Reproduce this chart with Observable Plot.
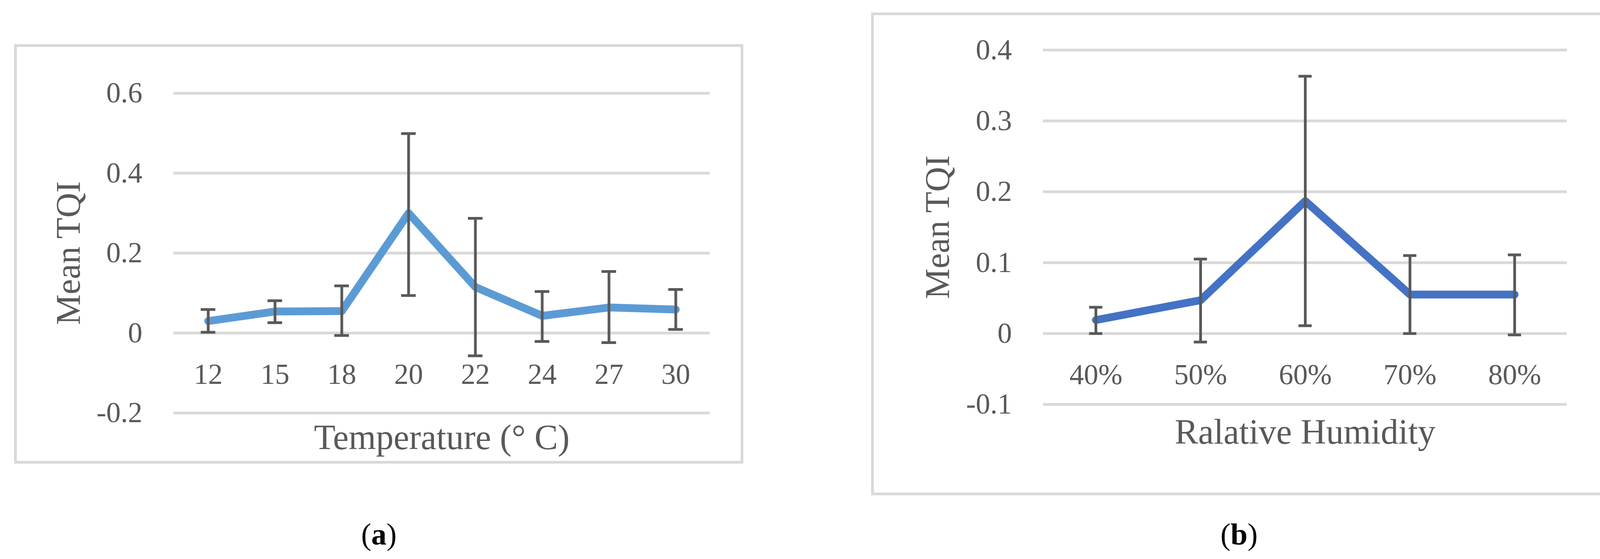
<!DOCTYPE html>
<html><head><meta charset="utf-8">
<script src="https://cdn.jsdelivr.net/npm/d3@7"></script>
<script src="https://cdn.jsdelivr.net/npm/@observablehq/plot@0.6"></script>
<style>
html,body{margin:0;padding:0;background:#fff}
body{width:4141px;height:1430px;position:relative;overflow:hidden;font-family:"Liberation Serif",serif}
.box{position:absolute;border:7px solid #d9d9d9;box-sizing:border-box}
.panel{position:absolute}
.panel svg{display:block}
.cap{position:absolute;font-size:78px;color:#000;transform:translate(-50%,-50%);white-space:nowrap;line-height:1}
</style></head><body>
<script>
// Panel (a): temperature
const tempCats = ["12","15","18","20","22","24","27","30"];
const tempMean = [0.030,0.054,0.055,0.300,0.115,0.043,0.064,0.059];
const tempLow  = [0.002,0.026,-0.006,0.094,-0.057,-0.021,-0.024,0.009];
const tempHigh = [0.059,0.081,0.118,0.499,0.287,0.104,0.154,0.109];
const tempTicks = [-0.2,0,0.2,0.4,0.6];

// Panel (b): relative humidity
const rhCats = ["40%","50%","60%","70%","80%"];
const rhMean = [0.019,0.047,0.187,0.055,0.055];
const rhLow  = [0.000,-0.012,0.011,0.000,-0.002];
const rhHigh = [0.037,0.105,0.363,0.110,0.111];
const rhTicks = [-0.1,0,0.1,0.2,0.3,0.4];

const GREY = "#595959";
const GRID = "#d9d9d9";

function panel(o){
  const rows = o.cats.map((c,i)=>({c, m:o.mean[i], lo:o.low[i], hi:o.high[i]}));
  const bw = (o.width - o.ml - o.mr) / o.cats.length;
  const inset = (bw - o.capW) / 2;
  const svg = Plot.plot({
    width:o.width, height:o.height,
    marginLeft:o.ml, marginRight:o.mr, marginTop:o.mt, marginBottom:o.mb,
    style:{fontFamily:"'Liberation Serif', serif", background:"transparent", color:GREY},
    x:{type:"band", domain:o.cats, padding:0, axis:null},
    y:{domain:o.domain},
    marks:[
      Plot.ruleY(o.ticks, {stroke:GRID, strokeWidth:7}),
      Plot.axisY(o.ticks, {tickSize:0, tickPadding:80, fontSize:74, fill:GREY, tickFormat:d=>String(d)}),
      Plot.text(o.cats, {x:d=>d, y:()=>0, text:d=>d, dy:o.tickDy, fontSize:74, fill:GREY, textAnchor:"middle", lineAnchor:"middle"}),
      Plot.line(rows, {x:"c", y:"m", stroke:o.color, strokeWidth:20, strokeLinecap:"round", strokeLinejoin:"round"}),
      Plot.ruleX(rows, {x:"c", y1:"lo", y2:"hi", stroke:GREY, strokeWidth:7}),
      Plot.tickY(rows, {x:"c", y:"hi", stroke:GREY, strokeWidth:7, insetLeft:inset, insetRight:inset}),
      Plot.tickY(rows, {x:"c", y:"lo", stroke:GREY, strokeWidth:7, insetLeft:inset, insetRight:inset}),
      Plot.text([o.xTitle], {frameAnchor:"bottom", text:d=>d, dy:o.titleDy, fontSize:90, fill:GREY, textAnchor:"middle", lineAnchor:"middle"}),
      Plot.text(["Mean TQI"], {frameAnchor:"left", text:d=>d, dx:o.yLabelDx, rotate:-90, fontSize:88, fill:GREY, textAnchor:"middle", lineAnchor:"middle"})
    ]
  });
  const box = document.createElement("div");
  box.className = "box";
  Object.assign(box.style, {left:o.left+"px", top:o.top+"px", width:o.width+"px", height:o.height+"px"});
  document.body.appendChild(box);
  const wrap = document.createElement("div");
  wrap.className = "panel";
  Object.assign(wrap.style, {left:o.left+"px", top:o.top+"px"});
  wrap.appendChild(svg);
  document.body.appendChild(wrap);
}

panel({cats:tempCats, mean:tempMean, low:tempLow, high:tempHigh, ticks:tempTicks,
  domain:[-0.2,0.6], color:"#5B9BD5", xTitle:"Temperature (° C)",
  left:36, top:113, width:1867, height:1073, ml:408, mr:86, mt:125, mb:130,
  yLabelDx:-269, titleDy:64, tickDy:106, capW:38});

panel({cats:rhCats, mean:rhMean, low:rhLow, high:rhHigh, ticks:rhTicks,
  domain:[-0.1,0.4], color:"#4472C4", xTitle:"Ralative Humidity",
  left:2230, top:32, width:1876, height:1235, ml:440, mr:95, mt:95.5, mb:233,
  yLabelDx:-270, titleDy:72, tickDy:106, capW:34});

function caption(txt, x, y){
  const d = document.createElement("div");
  d.className = "cap";
  d.style.left = x+"px"; d.style.top = y+"px";
  d.innerHTML = "(<b>"+txt+"</b>)";
  document.body.appendChild(d);
}
caption("a", 970, 1367);
caption("b", 3172, 1367);
</script>
</body></html>
